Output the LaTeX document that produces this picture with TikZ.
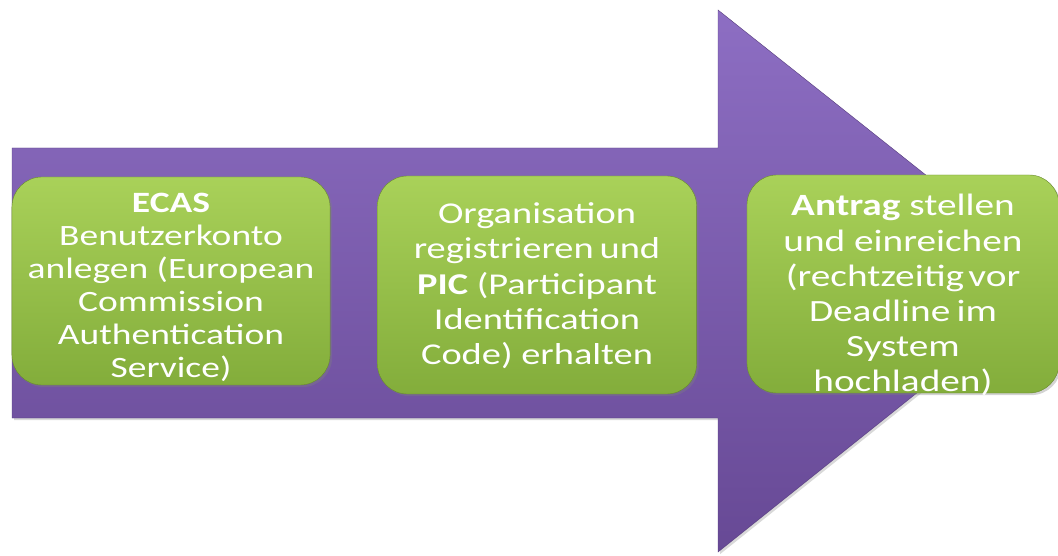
\documentclass[tikz,border=0pt]{standalone}
\usepackage{fontspec}
\setmainfont{Carlito}[FakeStretch=1.27]
\usepackage{tikz}
\usetikzlibrary{shadows}
\usepackage{xcolor}
\definecolor{lilatop}{HTML}{8D6EC3}
\definecolor{lilabot}{HTML}{674995}
\definecolor{gruentop}{HTML}{A9D159}
\definecolor{gruenbot}{HTML}{83AD3B}

\begin{document}
\begin{tikzpicture}[x=0.025cm,y=-0.025cm,
  schritt/.style={rounded corners=0.75cm,top color=gruentop,bottom color=gruenbot,draw=gruenbot!80!black,line width=0.3pt,drop shadow={opacity=0.35,shadow xshift=1.5pt,shadow yshift=-1.5pt}},
  schrifttext/.style={inner sep=0pt,align=center,text=white,font=\fontsize{21}{23.5}\selectfont}]
\useasboundingbox (0,0) rectangle (1058,556);
\draw[top color=lilatop,bottom color=lilabot,draw=lilabot!85!black,line width=0.3pt,drop shadow={opacity=0.3,shadow xshift=1.5pt,shadow yshift=-1.5pt}] (12,148) -- (718,148) -- (718,10) -- (1058,280) -- (718,552) -- (718,418) -- (12,418) -- cycle;
% drei Schritte
\node[schritt,minimum width=7.95cm,minimum height=5.2cm] (ecas) at (171,281) {};
\node[schritt,minimum width=7.975cm,minimum height=5.45cm] (pic) at (537,285) {};
\node[schritt,minimum width=7.8cm,minimum height=5.45cm] (antrag) at (903,284) {};
\node[schrifttext] (ecastext) at ([yshift=-4.5pt]ecas.center) {\textbf{ECAS}\\Benutzerkonto\\anlegen (European\\Commission\\Authentication\\Service)};
\node[schrifttext,font=\fontsize{21.5}{25}\selectfont] (pictext) at ([yshift=-0.5pt]pic.center) {Organisation\\registrieren\hspace{0.2em}und\\\textbf{PIC} (Participant\\Identification\\Code) erhalten};
\node[schrifttext,font=\fontsize{22}{25}\selectfont] (antragtext) at ([yshift=-8pt]antrag.center) {\textbf{Antrag} stellen\\und einreichen\\(rechtzeitig\hspace{0.14em}vor\\Deadline\hspace{0.2em}im\\System\\hochladen)};
\end{tikzpicture}
\end{document}
